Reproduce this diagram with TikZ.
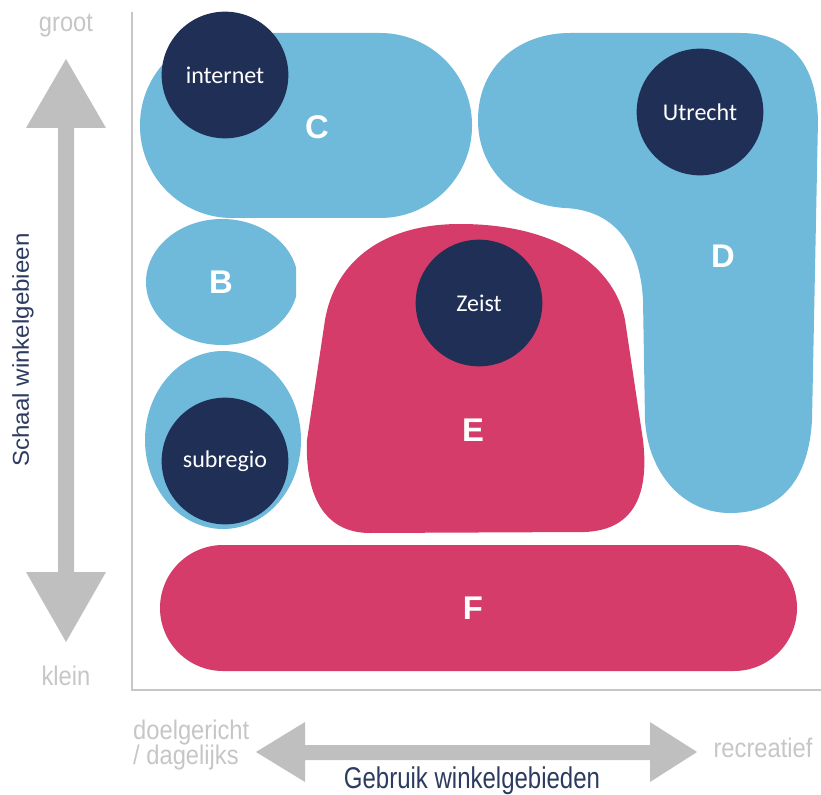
\documentclass[tikz,border=0pt]{standalone}
\usepackage{fontspec}
\setmainfont{Liberation Sans}
\newfontfamily\cityfont{Carlito}
\newfontfamily\axisfont{Liberation Sans}[FakeStretch=0.88]
\newfontfamily\titlefont{Liberation Sans}[FakeStretch=0.8]
\newfontfamily\vtitlefont{Liberation Sans}[FakeStretch=1.05]

\definecolor{regioblue}{HTML}{6FB9DA}
\definecolor{regiopink}{HTML}{D63C6A}
\definecolor{citynavy}{HTML}{1F2F55}
\definecolor{arrowgray}{HTML}{BFBFBF}
\definecolor{axisgray}{HTML}{C6C6C6}
\definecolor{titlenavy}{HTML}{2C3B60}

\tikzset{
  city/.style={circle, fill=citynavy, text=white, inner sep=0pt, minimum size=3.8cm,
    font=\cityfont\fontsize{20.5}{24}\selectfont},
  letter/.style={text=white, inner sep=0pt, font=\bfseries\fontsize{28}{32}\selectfont},
  axislabel/.style={text=axisgray, inner sep=0pt, font=\axisfont\fontsize{23}{22}\selectfont},
  axistitle/.style={text=titlenavy, inner sep=0pt}
}

\begin{document}
\begin{tikzpicture}[x=0.03cm, y=-0.03cm]

% Frame of the picture (pixels of the reference)
\useasboundingbox (0,0) rectangle (821,795);

% Axes
\draw[axisgray, line width=1.2pt] (132,12) -- (132,690) -- (821,690);

% Big gray arrows
\fill[arrowgray] (58,128) -- (26,128) -- (66,59) -- (106,128) -- (74,128)
                 -- (74,572) -- (106,572) -- (66,642) -- (26,572) -- (58,572) -- cycle;
\fill[arrowgray] (305,745) -- (305,722) -- (256,752) -- (305,782) -- (305,760)
                 -- (650,760) -- (650,782) -- (697,752) -- (650,722) -- (650,745) -- cycle;

% Region C
\fill[regioblue, rounded corners=2.76cm] (140,33) rectangle (472,218);

% Region D
\fill[regioblue] (570,33) -- (740,33) .. controls (790,33) and (816,62) .. (818,120)
  -- (812,420) .. controls (808,490) and (772,513) .. (730,513)
  .. controls (682,513) and (648,472) .. (645,420)
  -- (643,300) .. controls (640,242) and (612,210) .. (565,208)
  .. controls (515,205) and (478,170) .. (478,120)
  .. controls (478,65) and (520,33) .. (570,33) -- cycle;

% Region B (its right side is cut off)
\begin{scope}
  \clip (100,200) rectangle (296,360);
  \fill[regioblue] (222,282) ellipse [x radius=76, y radius=63];
\end{scope}

% Region round subregio
\fill[regioblue] (223,440) ellipse [x radius=78, y radius=89];

% Region E
\fill[regiopink] (460,224) .. controls (560,224) and (615,268) .. (625,320)
  -- (643,440) .. controls (650,500) and (630,530) .. (585,532)
  -- (370,533) .. controls (322,533) and (305,492) .. (307,440)
  -- (325,320) .. controls (335,262) and (382,224) .. (460,224) -- cycle;

% Region F
\fill[regiopink, rounded corners=1.89cm] (160,545) rectangle (797,671);

% Cities
\node[city] (internet) at (225,75) {internet};
\node[city] (utrecht) at (700,112) {Utrecht};
\node[city] (zeist) at (479,303) {Zeist};
\node[city] (subregio) at (225,461) {subregio};

% Region letters
\node[letter] (lC) at (317,127) {C};
\node[letter] (lB) at (221,282) {B};
\node[letter] (lD) at (723,256) {D};
\node[letter] (lE) at (473,430) {E};
\node[letter] (lF) at (473,608) {F};

% Axis labels
\node[axislabel] (groot) at (66,26) {groot};
\node[axislabel] (klein) at (66,676) {klein};
\node[axislabel, anchor=west, align=left] (doel) at (133,745) {doelgericht\\/ dagelijks};
\node[axislabel] (recreatief) at (763,748) {recreatief};

\node[axistitle, font=\titlefont\fontsize{25.6}{28}\selectfont] (gebruik) at (472,781) {Gebruik winkelgebieden};
\node[axistitle, rotate=90, font=\vtitlefont\fontsize{19.6}{22}\selectfont] (schaal) at (23,350) {Schaal winkelgebieen};

\end{tikzpicture}
\end{document}
